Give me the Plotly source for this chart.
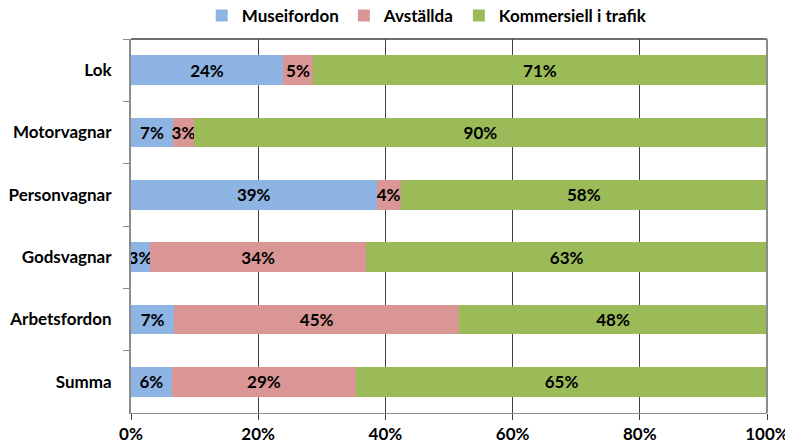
import plotly.graph_objects as go

categories = ["Lok", "Motorvagnar", "Personvagnar", "Godsvagnar", "Arbetsfordon", "Summa"]
museifordon = [23.9, 6.6, 38.6, 3.0, 6.8, 6.4]
avstallda = [4.7, 3.3, 3.8, 34.0, 44.8, 29.0]
kommersiell = [71.4, 90.1, 57.6, 63.0, 48.4, 64.6]
x_ticks = [0, 20, 40, 60, 80, 100]
x_tick_labels = ["0%", "20%", "40%", "60%", "80%", "100%"]

series = [
    ("Museifordon", museifordon, "#8EB4E3"),
    ("Avställda", avstallda, "#D99694"),
    ("Kommersiell i trafik", kommersiell, "#9BBB59"),
]

FONT = "Lato, Calibri, sans-serif"
FS = 17

fig = go.Figure()
for name, vals, color in series:
    fig.add_trace(go.Bar(
        y=categories, x=vals, name=name, orientation="h",
        marker=dict(color=color, line=dict(width=0)),
        texttemplate="%{x:.0f}%", textposition="inside", insidetextanchor="middle",
        textangle=0, constraintext="none",
        textfont=dict(family=FONT, size=FS, color="black", weight="bold"),
        cliponaxis=False,
    ))

# page body adds an 8px offset, so the figure is sized to fit 793x448 with it
fig.update_layout(
    barmode="stack", bargap=0.52,
    width=785, height=440,
    margin=dict(l=123, r=26, t=31, b=35, autoexpand=False),
    plot_bgcolor="white", paper_bgcolor="white",
    font=dict(family=FONT, size=FS, color="black"),
    legend=dict(orientation="h", x=0.465, xanchor="center", y=0.982, yanchor="middle",
                yref="container", font=dict(family=FONT, size=FS, weight="bold"),
                bgcolor="rgba(0,0,0,0)", borderwidth=0,
                traceorder="normal", tracegroupgap=0, itemwidth=30),
    showlegend=True,
)

fig.update_xaxes(
    range=[0, 100], tickvals=x_ticks, ticktext=x_tick_labels,
    showgrid=True, gridcolor="#404040", gridwidth=1,
    showline=True, linecolor="#8C8C8C", linewidth=1,
    ticks="outside", ticklen=6, tickcolor="#404040",
    tickfont=dict(family=FONT, size=FS, weight="bold"),
    zeroline=False, fixedrange=True, automargin=False,
)
fig.update_yaxes(
    categoryorder="array", categoryarray=categories, autorange="reversed",
    showline=True, linecolor="#8C8C8C", linewidth=2,
    ticks="outside", tickson="boundaries", ticklen=6, tickcolor="#8C8C8C",
    tickfont=dict(family=FONT, size=FS, weight="bold"),
    ticklabelstandoff=14, showgrid=False, automargin=False,
)

# top border (dark) and right edge (gray) of plot area
fig.add_shape(type="line", xref="paper", yref="paper", x0=0, x1=1, y0=1, y1=1,
              line=dict(color="#404040", width=1.5), layer="above")
fig.add_shape(type="line", xref="paper", yref="paper", x0=1, x1=1, y0=0, y1=1,
              line=dict(color="#8C8C8C", width=2), layer="above")

fig.write_html("out.html")
